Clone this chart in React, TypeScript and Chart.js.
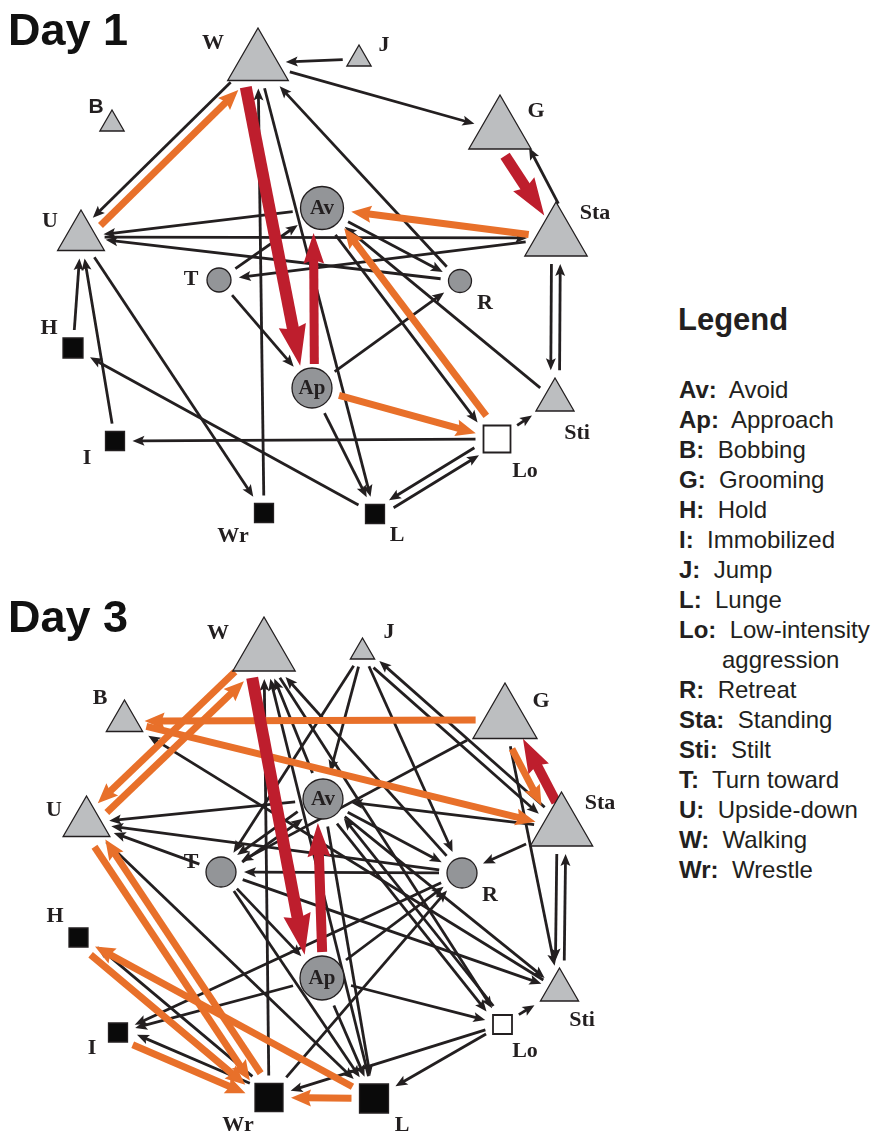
import React, { useEffect, useRef } from "react";
import { Chart, registerables } from "chart.js";
Chart.register(...registerables);

// ---------- data ----------
const SHAPE: Record<string, "triangle" | "circle" | "rect"> = {
  W: "triangle", J: "triangle", B: "triangle", G: "triangle", U: "triangle", Sta: "triangle", Sti: "triangle",
  Av: "circle", Ap: "circle", T: "circle", R: "circle",
  H: "rect", I: "rect", Lo: "rect", Wr: "rect", L: "rect",
};
const INSIDE_LABEL = ["Av", "Ap"];

const nodeNames = ["W", "J", "B", "G", "U", "Av", "Sta", "T", "R", "H", "Ap", "Sti", "I", "Lo", "Wr", "L"];

// Day 1 network layout (node centre) and node size (frequency)
const day1X = [258, 359, 112, 500, 81, 322, 556, 219, 460, 73, 312, 555, 115, 497, 264, 375];
const day1Y = [63, 59, 124, 131, 237, 208, 238, 280, 281, 348, 388, 400, 441, 439, 513, 514];
const day1Size = [35, 14, 14, 36, 27, 21.5, 36, 12, 11.5, 20, 20, 22, 19, 27, 19, 19];
const day1LabelX = [213, 384, 96, 536, 50, 0, 595, 191, 485, 49, 0, 577, 87, 525, 233, 397];
const day1LabelY = [43, 45, 107, 111, 221, 0, 213, 279, 303, 328, 0, 433, 458, 471, 536, 535];

type Edge = [string, string, "k" | "o" | "r", number?, number?, number?];
const day1Edges: Edge[] = [
  ["J", "W", "k"], ["W", "G", "k"], ["Sta", "G", "k", 18, 18], ["W", "U", "k"], ["Av", "U", "k"],
  ["U", "Sta", "k"], ["R", "U", "k"], ["Sta", "T", "k"], ["T", "Av", "k"], ["T", "Ap", "k"],
  ["Ap", "R", "k"], ["W", "L", "k"], ["Ap", "L", "k"], ["Wr", "W", "k"], ["R", "W", "k"],
  ["Sti", "Av", "k"], ["Av", "R", "k"], ["Av", "Lo", "k"], ["Lo", "I", "k"], ["Lo", "Sti", "k"],
  ["Lo", "L", "k"], ["L", "Lo", "k"], ["Sti", "Sta", "k"], ["Sta", "Sti", "k"], ["I", "U", "k"],
  ["H", "U", "k"], ["U", "Wr", "k"], ["L", "H", "k"],
  ["Sta", "Av", "o"], ["U", "W", "o"], ["Lo", "Av", "o"], ["Ap", "Lo", "o"],
  ["G", "Sta", "r", 7, 0, 11], ["W", "Ap", "r", 16, 8, 12], ["Ap", "Av", "r", 1, -7, 9],
];

// Day 3 network layout
const day3X = [264, 362.5, 124.5, 505, 86.5, 323, 561.5, 221, 462, 78.5, 322, 559.5, 118, 502.5, 269, 374];
const day3Y = [653, 652, 721, 720, 823, 799, 828, 872, 873, 937.5, 978, 990, 1032.5, 1024.5, 1097.5, 1098.5];
const day3Size = [36, 14, 21, 37, 27, 20, 36, 15, 15, 19, 22, 22, 19, 19, 28, 29];
const day3LabelX = [218, 389, 100, 541, 54, 0, 600, 191, 490, 55, 0, 582, 92, 525, 238, 402];
const day3LabelY = [633, 632, 698, 701, 810, 0, 803, 862, 895, 916, 0, 1020, 1048, 1051, 1125, 1125];

const day3Edges: Edge[] = [
  ["G", "B", "o"], ["B", "Sta", "o"], ["U", "W", "o"], ["W", "U", "o"], ["G", "Sta", "o"],
  ["U", "Wr", "o"], ["Wr", "U", "o"], ["H", "Wr", "o"], ["L", "H", "o"], ["I", "Wr", "o"], ["L", "Wr", "o"],
  ["Av", "U", "k"], ["R", "U", "k"], ["T", "U", "k"], ["Sti", "B", "k"], ["Wr", "W", "k"], ["L", "W", "k"],
  ["Av", "W", "k"], ["R", "W", "k"], ["J", "T", "k"], ["J", "Av", "k"], ["J", "R", "k"], ["Sta", "J", "k"],
  ["J", "Sta", "k"], ["G", "T", "k"], ["G", "Sti", "k"], ["Sta", "Av", "k"], ["Sta", "R", "k"],
  ["Sti", "Sta", "k"], ["Sta", "Sti", "k"], ["Lo", "Sti", "k"], ["Lo", "L", "k"], ["Lo", "Wr", "k"],
  ["Ap", "Lo", "k"], ["Av", "Lo", "k"], ["Av", "L", "k"], ["T", "L", "k"], ["Ap", "L", "k"],
  ["Wr", "R", "k"], ["Ap", "R", "k"], ["R", "T", "k"], ["Av", "R", "k"], ["Av", "T", "k"], ["T", "Av", "k"],
  ["Ap", "I", "k"], ["R", "I", "k"], ["Wr", "I", "k"], ["Wr", "H", "k"], ["U", "L", "k"], ["T", "Ap", "k"],
  ["Av", "Sti", "k"], ["T", "Sti", "k"], ["W", "Lo", "k"], ["Lo", "Av", "k"],
  ["Sta", "G", "r", undefined, undefined, 10], ["W", "Ap", "r", 16, 13, 12], ["Ap", "Av", "r", 0, -5, 10],
];

const legendCodes = ["Av", "Ap", "B", "G", "H", "I", "J", "L", "Lo", "R", "Sta", "Sti", "T", "U", "W", "Wr"];
const legendNames = ["Avoid", "Approach", "Bobbing", "Grooming", "Hold", "Immobilized", "Jump", "Lunge",
  "Low-intensity|aggression", "Retreat", "Standing", "Stilt", "Turn toward", "Upside-down", "Walking", "Wrestle"];

// ---------- styles ----------
const INK = "#231f20";
const ORANGE = "#E8702A";
const RED = "#BE1E2D";
const TRI_FILL = "#BCBEC0";
const CIRC_FILL = "#939598";

type DayData = {
  x: number[]; y: number[]; size: number[]; lx: number[]; ly: number[]; edges: Edge[]; sansB: boolean;
};

function exitDist(name: string, size: number, dx: number, dy: number) {
  const s = SHAPE[name];
  if (s === "circle") return size;
  if (s === "rect") return (size / 2) / Math.max(Math.abs(dx), Math.abs(dy));
  const normals = [[0, 1], [-0.866, -0.5], [0.866, -0.5]];
  let t = Infinity;
  for (const [nx, ny] of normals) {
    const d = nx * dx + ny * dy;
    if (d > 1e-6) t = Math.min(t, (size / 2) / d);
  }
  return t;
}

function buildChart(canvas: HTMLCanvasElement, day: DayData, yMin: number, yMax: number, xMax: number) {
  const edgePlugin = {
    id: "edges",
    beforeDatasetsDraw(chart: any) {
      const ctx: CanvasRenderingContext2D = chart.ctx;
      const sx = chart.scales.x, sy = chart.scales.y;
      const has = (a: string, b: string) => day.edges.some((e) => e[0] === a && e[1] === b);
      const widthOf = (e: Edge) => (e[2] === "k" ? 2.8 : e[2] === "o" ? 7 : (e[5] ?? 12));
      ctx.save();
      const order = ["k", "o", "r"];
      for (const kind of order) {
        for (const e of day.edges) {
          if (e[2] !== kind) continue;
          const a = nodeNames.indexOf(e[0]), b = nodeNames.indexOf(e[1]);
          const x1 = sx.getPixelForValue(day.x[a]), y1 = sy.getPixelForValue(day.y[a]);
          const x2 = sx.getPixelForValue(day.x[b]), y2 = sy.getPixelForValue(day.y[b]);
          const L = Math.hypot(x2 - x1, y2 - y1);
          const ux = (x2 - x1) / L, uy = (y2 - y1) / L;
          const px = -uy, py = ux;
          let o1 = e[3], o2 = e[4];
          if (o1 === undefined) {
            if (has(e[1], e[0])) {
              const rev = day.edges.find((f) => f[0] === e[1] && f[1] === e[0])!;
              const off = (widthOf(e) + widthOf(rev)) / 4 + 3;
              o1 = off; o2 = off;
            } else { o1 = 0; o2 = 0; }
          }
          const w = widthOf(e);
          const gap = e[2] === "r" ? 4 : 8;
          const d1 = exitDist(e[0], day.size[a], ux, uy) + gap;
          const d2 = exitDist(e[1], day.size[b], -ux, -uy) + gap;
          const sxp = x1 + ux * d1 + px * o1!, syp = y1 + uy * d1 + py * o1!;
          const exp = x2 - ux * d2 + px * o2!, eyp = y2 - uy * d2 + py * o2!;
          const ll = Math.hypot(exp - sxp, eyp - syp);
          const vx = (exp - sxp) / ll, vy = (eyp - syp) / ll;
          const nx = -vy, ny = vx;
          let head: number, hw: number, notch: number, color: string;
          if (e[2] === "k") { head = 12; hw = 10; notch = 2.5; color = INK; }
          else if (e[2] === "o") { head = 20; hw = 17; notch = 3; color = ORANGE; }
          else { head = 3.4 * w; hw = 2.3 * w; notch = 4; color = RED; }
          const bx = exp - vx * head, by = eyp - vy * head;
          ctx.strokeStyle = color;
          ctx.lineWidth = w;
          ctx.lineCap = "butt";
          ctx.beginPath();
          ctx.moveTo(sxp, syp);
          ctx.lineTo(bx + vx * (notch + 1), by + vy * (notch + 1));
          ctx.stroke();
          ctx.fillStyle = color;
          ctx.beginPath();
          ctx.moveTo(exp, eyp);
          ctx.lineTo(bx + nx * hw / 2, by + ny * hw / 2);
          ctx.lineTo(bx + vx * notch, by + vy * notch);
          ctx.lineTo(bx - nx * hw / 2, by - ny * hw / 2);
          ctx.closePath();
          ctx.fill();
        }
      }
      ctx.restore();
    },
  };

  const labelPlugin = {
    id: "nodeLabels",
    afterDatasetsDraw(chart: any) {
      const ctx: CanvasRenderingContext2D = chart.ctx;
      const sx = chart.scales.x, sy = chart.scales.y;
      ctx.save();
      ctx.fillStyle = INK;
      ctx.textAlign = "center";
      ctx.textBaseline = "middle";
      nodeNames.forEach((n, i) => {
        if (INSIDE_LABEL.includes(n)) {
          ctx.font = "bold 21px 'Liberation Serif'";
          ctx.fillText(n, sx.getPixelForValue(day.x[i]), sy.getPixelForValue(day.y[i]) + 1);
        } else {
          ctx.font = n === "B" && day.sansB ? "bold 21px 'Liberation Sans'" : "bold 22px 'Liberation Serif'";
          ctx.fillText(n, sx.getPixelForValue(day.lx[i]), sy.getPixelForValue(day.ly[i]));
        }
      });
      ctx.restore();
    },
  };

  return new Chart(canvas, {
    type: "scatter",
    data: {
      datasets: [
        {
          data: nodeNames.map((_, i) => ({ x: day.x[i], y: day.y[i] })),
          pointStyle: nodeNames.map((n) => SHAPE[n]) as any,
          pointRadius: nodeNames.map((n, i) => (SHAPE[n] === "rect" ? day.size[i] / Math.SQRT2 : day.size[i])),
          pointHoverRadius: nodeNames.map((n, i) => (SHAPE[n] === "rect" ? day.size[i] / Math.SQRT2 : day.size[i])),
          pointBackgroundColor: nodeNames.map((n) =>
            n === "Lo" ? "#ffffff" : SHAPE[n] === "triangle" ? TRI_FILL : SHAPE[n] === "circle" ? CIRC_FILL : "#0a0a0a"),
          pointBorderColor: INK,
          pointBorderWidth: nodeNames.map((n) => (n === "Lo" ? 1.8 : 1.3)),
          clip: false,
        } as any,
      ],
    },
    options: {
      animation: false,
      responsive: false,
      devicePixelRatio: 1,
      events: [],
      layout: { padding: 0, autoPadding: false },
      plugins: { legend: { display: false }, tooltip: { enabled: false } },
      scales: {
        x: { type: "linear", display: false, min: 0, max: xMax },
        y: { type: "linear", display: false, min: yMin, max: yMax, reverse: true },
      },
    } as any,
    plugins: [edgePlugin, labelPlugin],
  });
}

function Network({ day, top, height }: { day: DayData; top: number; height: number }) {
  const ref = useRef<HTMLCanvasElement>(null);
  useEffect(() => {
    const chart = buildChart(ref.current!, day, top, top + height, 640);
    return () => chart.destroy();
  }, []);
  return (
    <canvas ref={ref} width={640} height={height}
      style={{ position: "absolute", left: 0, top, width: 640, height }} />
  );
}

const titleStyle: React.CSSProperties = {
  position: "absolute", left: 8, font: "bold 45px 'Liberation Sans'", lineHeight: "45px", color: "#111", whiteSpace: "nowrap",
};

export default function App() {
  const day1: DayData = { x: day1X, y: day1Y, size: day1Size, lx: day1LabelX, ly: day1LabelY, edges: day1Edges, sansB: true };
  const day3: DayData = { x: day3X, y: day3Y, size: day3Size, lx: day3LabelX, ly: day3LabelY, edges: day3Edges, sansB: false };
  return (
    <div style={{ position: "absolute", left: 0, top: 0, width: 878, height: 1136, background: "#fff", overflow: "hidden" }}>
      <Network day={day1} top={0} height={565} />
      <Network day={day3} top={565} height={571} />
      <div style={{ ...titleStyle, top: 7 }}>Day 1</div>
      <div style={{ ...titleStyle, top: 594 }}>Day 3</div>
      <div style={{ position: "absolute", left: 678, top: 304, font: "bold 31px 'Liberation Sans'", lineHeight: "31px", color: INK }}>
        Legend
      </div>
      <div style={{ position: "absolute", left: 679, top: 375, fontFamily: "'Liberation Sans'", fontSize: 24, lineHeight: "30px", color: INK, whiteSpace: "nowrap" }}>
        {legendCodes.map((c, i) => {
          const parts = legendNames[i].split("|");
          return (
            <React.Fragment key={c}>
              <div style={{ height: 30 }}>
                <span style={{ fontWeight: "bold" }}>{c}:</span>{"\u00a0 "}{parts[0]}
              </div>
              {parts[1] && <div style={{ height: 30, paddingLeft: 43 }}>{parts[1]}</div>}
            </React.Fragment>
          );
        })}
      </div>
    </div>
  );
}
